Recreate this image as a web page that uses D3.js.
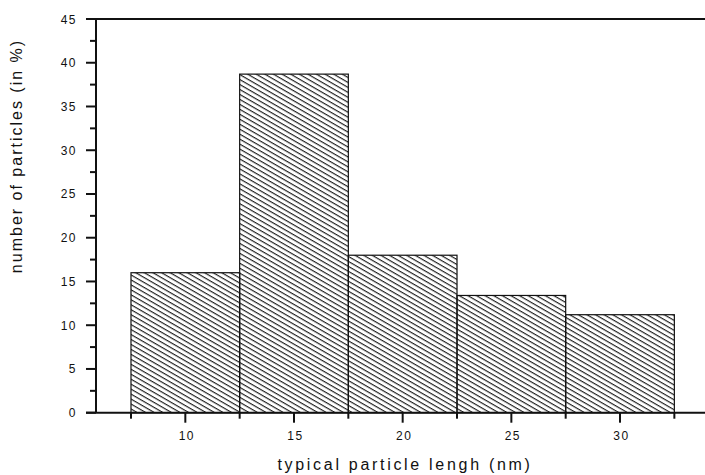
<!DOCTYPE html>
<html>
<head>
<meta charset="utf-8">
<script src="https://cdn.jsdelivr.net/npm/d3@7"></script>
<style>
  body { margin: 0; background: #fff; }
  text { font-family: "Liberation Sans", Arial, sans-serif; fill: #111; }
</style>
</head>
<body>
<svg id="chart" width="705" height="475"></svg>
<script>
// bin centres (nm) and share of particles (%)
const binCenters = [10, 15, 20, 25, 30];
const percents = [16, 38.7, 18, 13.4, 11.2];
const binWidth = 5;
const yTicks = [0, 5, 10, 15, 20, 25, 30, 35, 40, 45];
const xTicks = [10, 15, 20, 25, 30];

const svg = d3.select("#chart");
const plot = { left: 96, right: 705, top: 19, bottom: 412.7 };

const x = d3.scaleLinear().domain([5.89, 33.91]).range([plot.left, plot.right]);
const y = d3.scaleLinear().domain([0, 45]).range([plot.bottom, plot.top]);

// hatch pattern, lines going down to the right
const defs = svg.append("defs");
const pat = defs.append("pattern")
  .attr("id", "hatch")
  .attr("patternUnits", "userSpaceOnUse")
  .attr("width", 20)
  .attr("height", 4.3)
  .attr("patternTransform", "rotate(30)");
pat.append("line")
  .attr("x1", 0).attr("x2", 20)
  .attr("y1", 0.6).attr("y2", 0.6)
  .attr("stroke", "#111")
  .attr("stroke-width", 1.1);

// bars
svg.selectAll(".bar")
  .data(binCenters)
  .join("rect")
  .attr("class", "bar")
  .attr("x", (d) => x(d - binWidth / 2))
  .attr("width", (d) => x(d + binWidth / 2) - x(d - binWidth / 2))
  .attr("y", (d, i) => y(percents[i]))
  .attr("height", (d, i) => plot.bottom - y(percents[i]))
  .attr("fill", "url(#hatch)")
  .attr("stroke", "#111")
  .attr("stroke-width", 1.2);

// frame lines
function line(x1, y1, x2, y2, w) {
  svg.append("line")
    .attr("x1", x1).attr("y1", y1).attr("x2", x2).attr("y2", y2)
    .attr("stroke", "#111").attr("stroke-width", w || 2);
}
line(86, plot.top, plot.right, plot.top);
line(86, plot.bottom, plot.right, plot.bottom);
line(plot.left, plot.top, plot.left, plot.bottom);

// y axis ticks
const minorY = d3.range(2.5, 45, 5);
svg.selectAll(".ytick")
  .data(yTicks)
  .join("line")
  .attr("x1", 86).attr("x2", plot.left)
  .attr("y1", (d) => y(d)).attr("y2", (d) => y(d))
  .attr("stroke", "#111").attr("stroke-width", 2);
svg.selectAll(".yminor")
  .data(minorY)
  .join("line")
  .attr("x1", 90).attr("x2", plot.left)
  .attr("y1", (d) => y(d)).attr("y2", (d) => y(d))
  .attr("stroke", "#111").attr("stroke-width", 2);
svg.selectAll(".ylab")
  .data(yTicks)
  .join("text")
  .attr("x", 77)
  .attr("y", (d) => y(d) + 4.5)
  .attr("text-anchor", "end")
  .attr("font-size", 12)
  .attr("letter-spacing", 1.5)
  .text((d) => d);

// x axis ticks
svg.selectAll(".xtick")
  .data(xTicks)
  .join("line")
  .attr("x1", (d) => x(d)).attr("x2", (d) => x(d))
  .attr("y1", plot.bottom).attr("y2", plot.bottom + 10)
  .attr("stroke", "#111").attr("stroke-width", 2);
const edges = binCenters.map((d) => d - binWidth / 2).concat([binCenters[binCenters.length - 1] + binWidth / 2]);
svg.selectAll(".xminor")
  .data(edges)
  .join("line")
  .attr("x1", (d) => x(d)).attr("x2", (d) => x(d))
  .attr("y1", plot.bottom).attr("y2", plot.bottom + 6)
  .attr("stroke", "#111").attr("stroke-width", 2);
svg.selectAll(".xlab")
  .data(xTicks)
  .join("text")
  .attr("x", (d) => x(d) + 1.5)
  .attr("y", 440)
  .attr("text-anchor", "middle")
  .attr("font-size", 12)
  .attr("letter-spacing", 1.5)
  .text((d) => d);

// axis titles
svg.append("text")
  .attr("x", 405)
  .attr("y", 470)
  .attr("text-anchor", "middle")
  .attr("font-size", 16)
  .attr("letter-spacing", 2.7)
  .text("typical particle lengh (nm)");
svg.append("text")
  .attr("transform", "translate(22,156) rotate(-90)")
  .attr("text-anchor", "middle")
  .attr("font-size", 16)
  .attr("letter-spacing", 2)
  .text("number of particles (in %)");
</script>
</body>
</html>
